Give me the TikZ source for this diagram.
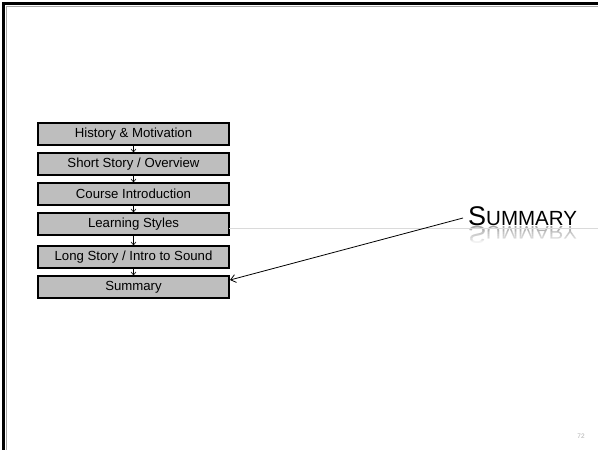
\documentclass[tikz,border=0pt]{standalone}
\usepackage{fontspec}
\setmainfont{Liberation Sans}
\usetikzlibrary{arrows.meta}
\definecolor{boxgray}{HTML}{BEBEBE}
\definecolor{rulegray}{HTML}{DADADA}
\definecolor{pagegray}{HTML}{B0B0B0}
\tikzset{
  stepbox/.style={draw=black, line width=1.2pt, fill=boxgray,
    minimum width=191pt, minimum height=22pt, inner sep=0pt,
    font=\fontsize{13.2}{14}\selectfont},
  flow/.style={line width=0.6pt, -{Straight Barb[length=3pt,width=5pt]}},
  pointer/.style={line width=0.8pt, -{Straight Barb[length=5pt,width=8pt]}},
  titletext/.style={anchor=base west, inner sep=0pt}
}
\newcommand{\titleword}{{\fontsize{27}{27}\selectfont S}{\fontsize{20.5}{20.5}\selectfont UMMARY}}
\begin{document}
\begin{tikzpicture}[x=1pt, y=-1pt]
  \useasboundingbox (0,0) rectangle (598,450);
  \fill[white] (0,0) rectangle (598,450);

  % slide frame (top and left edges)
  \draw[gray!70, line width=1pt] (6,450) -- (6,6) -- (598,6);
  \draw[black, line width=2.4pt] (3.6,450) -- (3.6,3.6) -- (598,3.6);

  % agenda boxes
  \node[stepbox] (s1) at (133.5,134) {History \& Motivation};
  \node[stepbox] (s2) at (133.5,164) {Short Story / Overview};
  \node[stepbox] (s3) at (133.5,194) {Course Introduction};
  \node[stepbox] (s4) at (133.5,224) {Learning Styles};
  \node[stepbox] (s5) at (133.5,257) {Long Story / Intro to Sound};
  \node[stepbox] (s6) at (133.5,287) {Summary};

  \draw[flow] (s1.south) -- (s2.north);
  \draw[flow] (s2.south) -- (s3.north);
  \draw[flow] (s3.south) -- (s4.north);
  \draw[flow] (s4.south) -- (s5.north);
  \draw[flow] (s5.south) -- (s6.north);

  % mirrored title, faded out downwards by white strips
  \node[titletext, yscale=-0.9, text=black!35] (titlerefl) at (468,226) {\titleword};
  \foreach \k in {0,...,9}{
    \fill[white, opacity=0.1*\k+0.05] (466,{227+1.8*\k}) rectangle (580,{228.8+1.8*\k});
  }
  \fill[white] (466,245) rectangle (580,252);

  % title rule
  \draw[rulegray, line width=0.8pt] (229,228) -- (598,228);

  % title
  \node[titletext] (title) at (468,225) {\titleword};

  % pointer from the title to the current item
  \coordinate (lead) at (463,218);
  \coordinate (tip) at (230,280);
  \draw[pointer] (lead) -- (tip);

  % page number
  \node[text=pagegray, font=\fontsize{6.5}{7}\selectfont] (pagenum) at (581,436) {72};
\end{tikzpicture}
\end{document}
